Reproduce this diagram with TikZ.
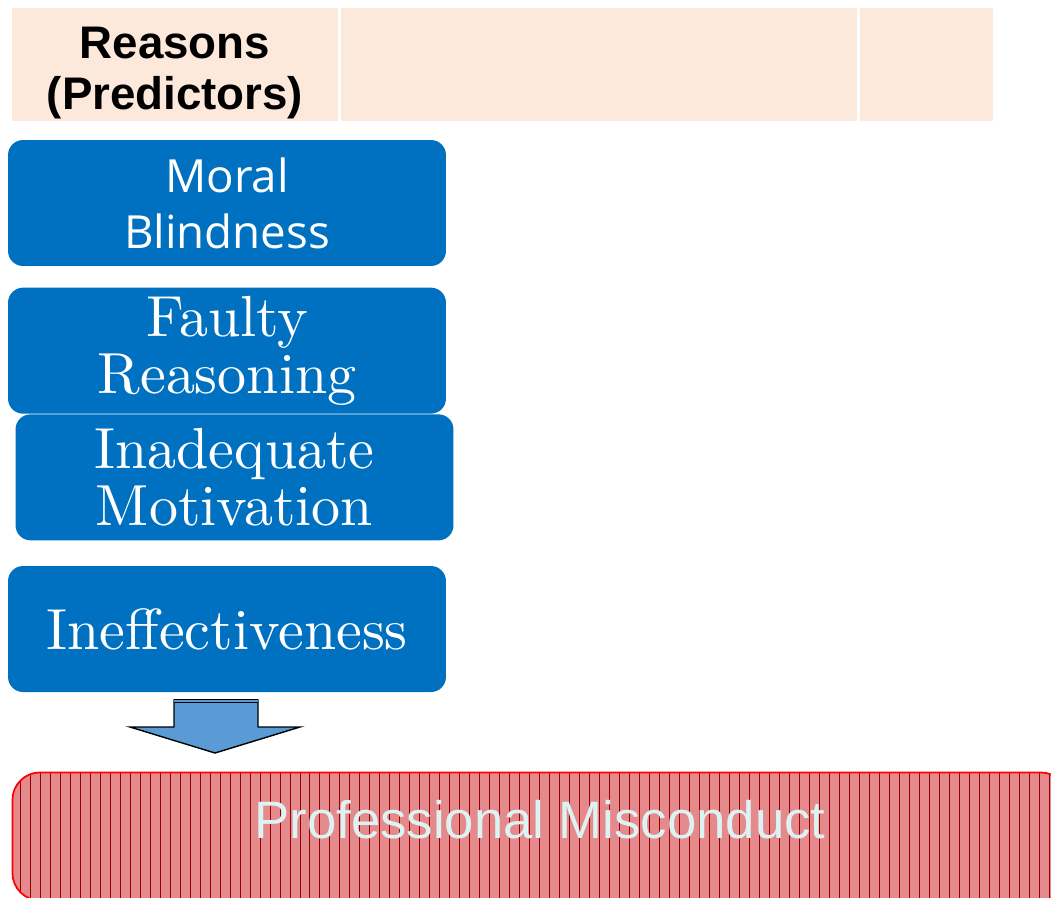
\documentclass[tikz,border=0pt]{standalone}
\usepackage{fontspec}
\usepackage{tikz}
\usetikzlibrary{positioning, patterns.meta}
\newfontfamily\headfont{Liberation Sans}
\newfontfamily\moralfont{Open Sans}
\newfontfamily\cmten{lmroman10-regular.otf}
\definecolor{headpeach}{HTML}{FCE9DB}
\definecolor{reasonblue}{HTML}{0070C0}
\definecolor{arrowblue}{HTML}{5B9BD5}
\definecolor{misred}{HTML}{E48A8C}
\definecolor{mistext}{HTML}{DDF2F2}
\begin{document}
\begin{tikzpicture}[
  x=0.02cm, y=-0.02cm,
  headcell/.style={rectangle, fill=headpeach, minimum height=2.26cm, inner sep=0pt, align=center},
  reason/.style={rectangle, fill=reasonblue, rounded corners=0.3cm, minimum width=8.76cm, minimum height=2.52cm, inner sep=0pt, align=center, text=white},
  serifreason/.style={reason, font=\cmten\fontsize{33}{32.5}\selectfont},
  blockarrow/.style={fill=arrowblue, draw=black, line width=0.8pt, line join=miter},
  outcome/.style={rectangle, draw=red, line width=1pt, rounded corners=0.55cm, preaction={fill=misred}, pattern={Lines[angle=90, distance=0.2cm, line width=0.5pt]}, pattern color=red!60!black}
]
  \clip (0,0) rectangle (1051,898);
  \fill[white] (0,0) rectangle (1051,898);

  % header row
  \node[headcell, anchor=north west, minimum width=6.52cm] (reasonsHead) at (12,8) {};
  \node[headcell, minimum width=10.32cm, right=0.04cm of reasonsHead] (midHead) {};
  \node[headcell, minimum width=2.66cm, right=0.04cm of midHead] (rightHead) {};
  \node[align=center, font=\headfont\bfseries\fontsize{26}{29.5}\selectfont] (reasonsLabel) at (175,73) {Reasons\\(Predictors)};

  % predictors
  \node[reason, font=\moralfont\fontsize{26}{32}\selectfont] (moral) at (227,203) {Moral\\Blindness};
  \node[serifreason, below=0.42cm of moral] (faulty) {Faulty\\Reasoning};
  \node[serifreason, below=0cm of faulty, xshift=0.15cm] (inadequate) {Inadequate\\Motivation};
  \node[serifreason, below=0.5cm of inadequate, xshift=-0.15cm] (ineff) {Ineffectiveness};

  % block arrow
  \coordinate (arrowTop) at (216,700);
  \draw[blockarrow] (arrowTop) ++(-42,0) -- ++(0,27) -- ++(-44,0) -- (215,753)
    -- (300,727) -- ++(-42,0) -- ++(0,-27) -- cycle;
  \draw[line width=0.8pt, double=arrowblue, double distance=0.8pt] (arrowTop) ++(-42,1) -- ++(84,0);

  % outcome
  \node[outcome, anchor=north west, minimum width=21.12cm, minimum height=2.56cm] (misconduct) at (12,772) {};
  \node[text=mistext, font=\headfont\fontsize{30}{36}\selectfont] (misLabel) at (540,820) {Professional Misconduct};
\end{tikzpicture}
\end{document}
